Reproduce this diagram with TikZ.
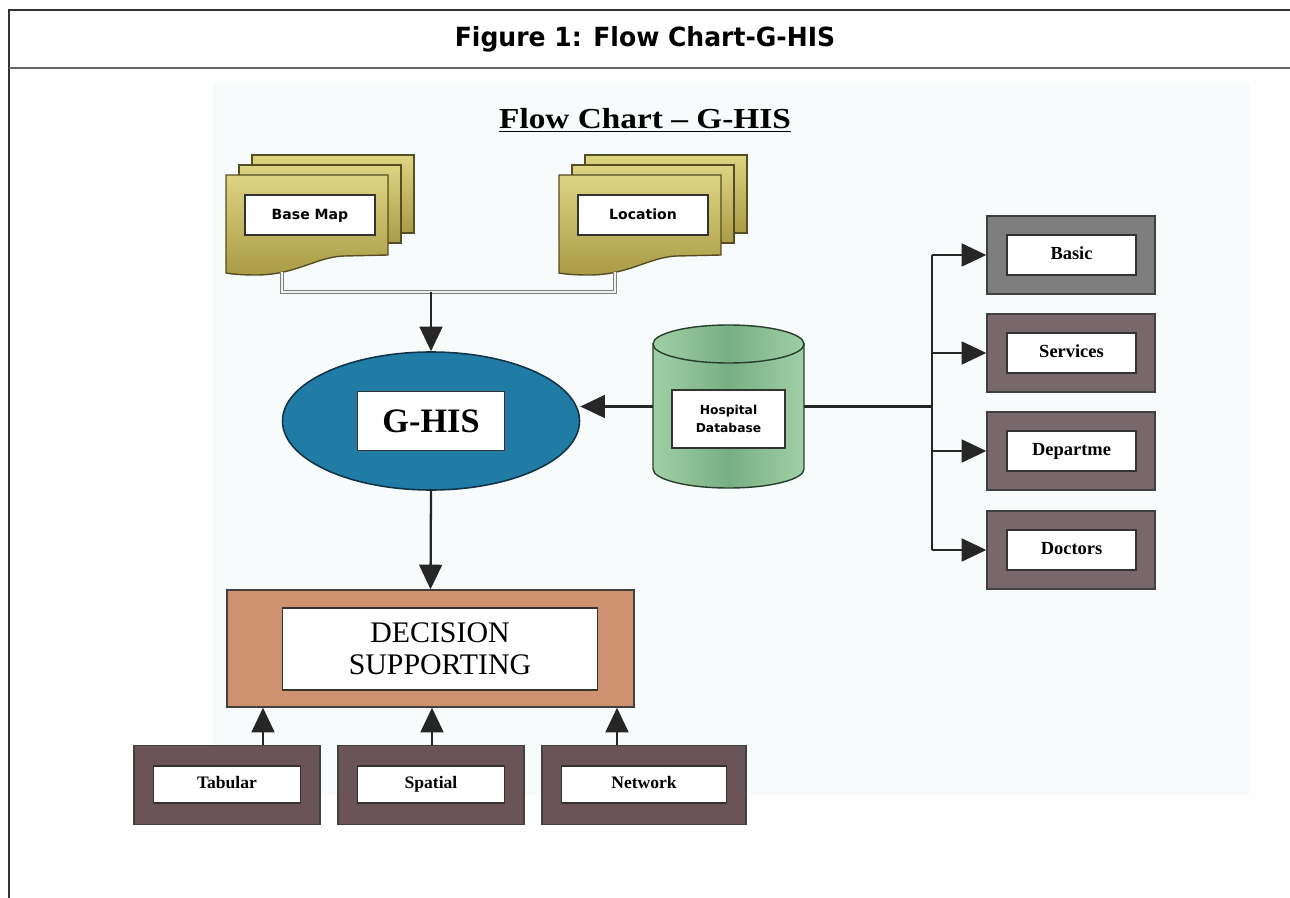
\documentclass[tikz,border=0pt]{standalone}
\usepackage{fontspec}
\setmainfont{Liberation Serif}
\newfontfamily\headfont[FakeStretch=0.95]{DejaVu Sans}
\newfontfamily\tagfont{DejaVu Sans}
\newfontfamily\bannerfont[FakeStretch=1.15]{Liberation Serif}
\usetikzlibrary{arrows.meta,
                shapes.geometric,
                positioning
                }

\definecolor{paper}{RGB}{247,251,252}
\definecolor{sheettop}{RGB}{222,212,130}
\definecolor{sheetbot}{RGB}{170,155,70}
\definecolor{sheetedge}{RGB}{85,78,35}
\definecolor{ghisblue}{RGB}{32,124,164}
\definecolor{ghisedge}{RGB}{18,52,72}
\definecolor{dbside}{RGB}{160,208,165}
\definecolor{dbmid}{RGB}{120,175,130}
\definecolor{dbedge}{RGB}{40,62,45}
\definecolor{panelgray}{RGB}{126,126,126}
\definecolor{panelmauve}{RGB}{120,104,107}
\definecolor{slab}{RGB}{106,84,88}
\definecolor{copper}{RGB}{206,146,112}

% one pixel of the layout grid
\newdimen\pxu
\pxu=0.02cm

\newcommand\sheetfont{\tagfont\bfseries\fontsize{8}{9}\selectfont}

\begin{document}
\begin{tikzpicture}[
x=0.02cm, y=-0.02cm,
    frame/.style = {line width=1pt, draw=black!80},
     flow/.style = {draw=black!85, line width=1.3pt,
                    -{Triangle[length=14pt,width=13pt]}},
     wire/.style = {draw=black!85, line width=1.3pt},
     feed/.style = {draw=black!50, double=black!6,
                    double distance=0.7pt, line width=0.6pt},
      tag/.style = {draw=black!80, fill=white, line width=0.8pt,
                    inner sep=0pt, align=center},
     word/.style = {text height=0.72em, text depth=0.22em},
    panel/.style = {draw=black!75, line width=0.8pt, inner sep=0pt},
 docsheet/.style = {draw=sheetedge, line width=0.8pt,
                    top color=sheettop, bottom color=sheetbot},
   dbpart/.style = {draw=dbedge, line width=0.8pt,
                    left color=dbside, right color=dbside, middle color=dbmid},
 docstack/.pic = {
    \foreach \d in {2,1}
        \path[docsheet] (13*\d,-10*\d) rectangle ++(162,78);
    \path[docsheet] (0,0) -- (162,0) -- (162,80) -- (118,81)
        .. controls (90,82) and (70,100) .. (30,100)
        .. controls (15,100) and (5,99) .. (0,98) -- cycle;
    \node[tag, word, minimum width=130\pxu, minimum height=40\pxu,
          font=\sheetfont] (-txt) at (84,40) {#1};
    \coordinate (-foot) at (56,97);
                 },
                        ]
\useasboundingbox (0,0) rectangle (1290,898);
\fill[paper] (213,83) rectangle (1250,795);
%
\draw[frame] (9,898) -- (9,10) -- (1290,10);
\draw[line width=1.2pt, black!60] (9,68) -- (1290,68);
\node[font=\headfont\bfseries\fontsize{15}{18}\selectfont] (head) at (645,39)
    {Figure 1: Flow Chart-G-HIS};
\node[font=\bannerfont\bfseries\fontsize{16.5}{18}\selectfont] (banner) at (645,120)
    {\underline{Flow Chart – G-HIS}};
% source layers
\pic (bm)  at (226,175) {docstack=Base Map};
\pic (loc) at (559,175) {docstack=Location};
% core
\node[ellipse, draw=ghisedge, line width=0.9pt, fill=ghisblue,
      minimum width=297\pxu, minimum height=138\pxu, inner sep=0pt]
      (ghis) at (431,421) {};
\node[tag, minimum width=147\pxu, minimum height=59\pxu,
      font=\bfseries\fontsize{19.5}{20}\selectfont] (ghis-txt) at (ghis) {G-HIS};
% hospital database drum
\path[dbpart] (653,344) -- (653,469)
    arc[start angle=180, end angle=0, x radius=75.5, y radius=19]
    -- (804,344) -- cycle;
\path[dbpart] (728.5,344) ellipse[x radius=75.5, y radius=19];
\node[minimum width=151\pxu, minimum height=163\pxu, inner sep=0pt]
      (db) at (728.5,406.5) {};
\node[tag, minimum width=113\pxu, minimum height=58\pxu,
      font=\tagfont\bfseries\fontsize{7}{10}\selectfont] (db-txt) at (728.5,419)
      {Hospital\\Database};
\node[panel, fill=copper, minimum width=407\pxu, minimum height=117\pxu]
      (dss) at (430.5,648.5) {};
\node[tag, minimum width=315\pxu, minimum height=82\pxu,
      font=\fontsize{17}{18}\selectfont] (dss-txt) at (440,649)
      {DECISION\\SUPPORTING};
% links
\coordinate (merge) at (431,292);
\draw[feed] (bm-foot) -- ++(0,20) -| (loc-foot);
\draw[flow] (merge) -- (ghis.north);
\draw[flow] (db.west) -- (db.west -| ghis.east);
\draw[flow] (ghis.south) -- (dss.north);
% hospital tables
\coordinate (tap) at (932,406.5);
\draw[wire] (db.east) -- (tap);
\foreach \nm/\txt/\yy/\cc in {basic/Basic/255/panelgray,
                              services/Services/353/panelmauve,
                              dept/Departme/451/panelmauve,
                              doctors/Doctors/550/panelmauve}
{
    \node[panel, fill=\cc, minimum width=168\pxu, minimum height=78\pxu]
          (\nm) at (1071,\yy) {};
    \node[tag, word, minimum width=129\pxu, minimum height=40\pxu,
          font=\bfseries\fontsize{10.5}{12}\selectfont] at (1071.5,\yy) {\txt};
    \draw[flow] (\nm.west -| tap) -- (\nm.west);
}
\draw[wire] (basic.west -| tap) -- (doctors.west -| tap);
% inputs of decision support
\foreach \nm/\txt/\xx/\ww/\ax in {tab/Tabular/227/186/263,
                                  spat/Spatial/431/186/432,
                                  net/Network/644/204/617}
{
    \node[panel, fill=slab, minimum width=\ww\pxu, minimum height=79\pxu]
          (\nm) at (\xx,785) {};
    \node[tag, word, minimum width=\ww\pxu-39\pxu, minimum height=37\pxu,
          font=\bfseries\fontsize{10}{12}\selectfont] at (\xx,784.5) {\txt};
    \draw[flow] (\nm.north -| \ax,0) -- (dss.south -| \ax,0);
}
    \end{tikzpicture}
\end{document}
